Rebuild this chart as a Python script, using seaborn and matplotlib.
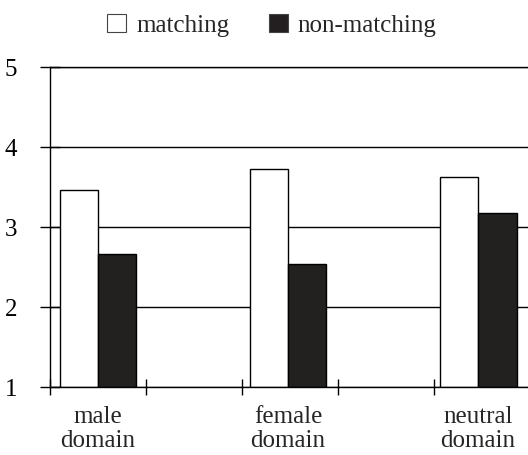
import pandas as pd
import numpy as np
import matplotlib
matplotlib.use('Agg')
import matplotlib.pyplot as plt
import seaborn as sns
from matplotlib.patches import Patch

sns.set_style("ticks")
plt.rcParams['font.family'] = ['Liberation Serif', 'DejaVu Serif']
plt.rcParams['font.size'] = 18

# Data
domains = ['male\ndomain', 'female\ndomain', 'neutral\ndomain']
matching = [3.46, 3.73, 3.62]
non_matching = [2.66, 2.54, 3.18]
conditions = ['matching', 'non-matching']
colors = {'matching': 'white', 'non-matching': '#231f20'}

df = pd.DataFrame({
    'domain': domains * 2,
    'condition': ['matching'] * 3 + ['non-matching'] * 3,
    'score': matching + non_matching,
})

fig = plt.figure(figsize=(5.28, 4.56), dpi=100)
ax = fig.add_axes([50 / 528, 68 / 456, 1 - 50 / 528, 320 / 456])

# bars start at y=1, so plot height above the baseline
df['height'] = df['score'] - 1
sns.barplot(data=df, x='domain', y='height', hue='condition', order=domains,
            hue_order=conditions, palette=colors, width=0.405,
            edgecolor='black', linewidth=1.0, bottom=1, ax=ax, legend=False)

ax.set_xlim(-0.2526, 2.263)
ax.set_ylim(1, 5)
ax.set_yticks([1, 2, 3, 4, 5])
ax.set_xlabel('')
ax.set_ylabel('')

# horizontal reference lines behind the bars
ax.set_axisbelow(True)
ax.yaxis.grid(True, color='black', linewidth=1.0)

for side in ['left', 'bottom', 'top']:
    ax.spines[side].set_color('black')
    ax.spines[side].set_linewidth(1.0)
ax.spines['right'].set_visible(False)

ax.tick_params(axis='y', direction='inout', length=15, width=1.0, pad=16,
               labelsize=18, colors='black')
ax.set_xticks(range(len(domains)))
ax.set_xticklabels(domains, linespacing=1.1)
ax.tick_params(axis='x', which='major', length=0, pad=13, labelsize=18)
ax.set_xticks(np.arange(-0.2526, 2.26, 0.5055), minor=True)
ax.tick_params(axis='x', which='minor', direction='inout', length=12,
               width=1.0, colors='black')

handles = [Patch(facecolor=colors[c], edgecolor='#444444', linewidth=0.8, label=c)
           for c in conditions]
fig.legend(handles=handles, loc='center', bbox_to_anchor=(272 / 528, 1 - 26 / 456),
           ncol=2, frameon=False, handlelength=0.75, handleheight=0.75,
           handletextpad=0.4, columnspacing=1.6, fontsize=18)

fig.savefig('out.png', dpi=100)
